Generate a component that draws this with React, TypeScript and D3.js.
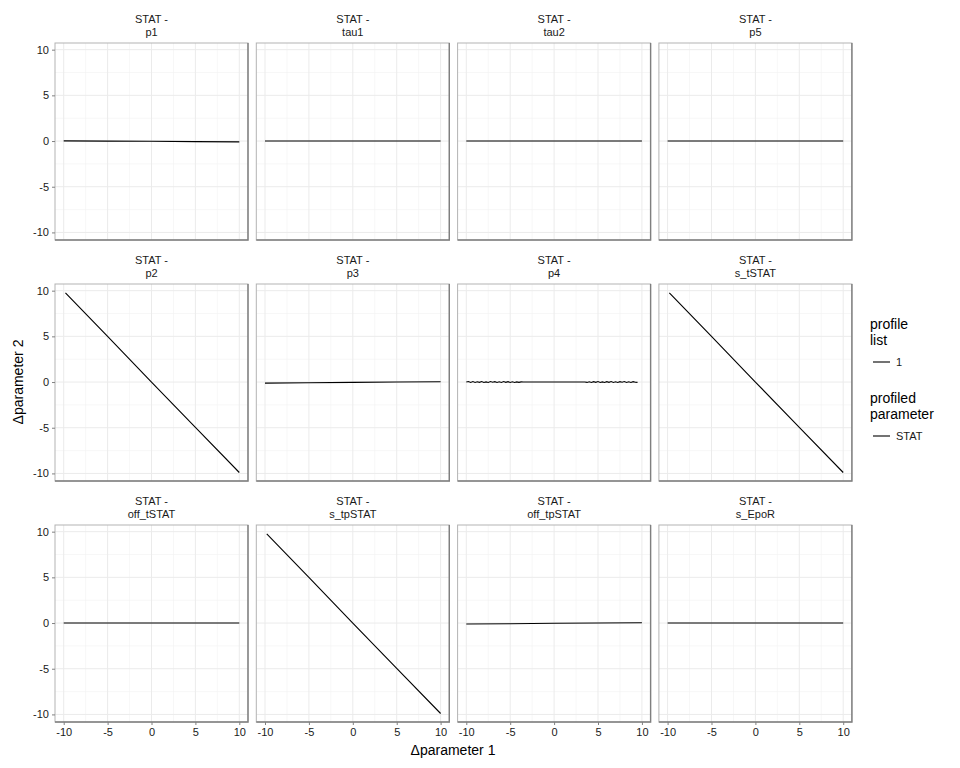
import React, { useEffect, useRef } from 'react';
import * as d3 from 'd3';

// facet names (row-major, 4 columns)
const panelNames = [
  'p1', 'tau1', 'tau2', 'p5',
  'p2', 'p3', 'p4', 's_tSTAT',
  'off_tSTAT', 's_tpSTAT', 'off_tpSTAT', 's_EpoR'
];

// x / y values per facet
const flatX = [-10, -5, 0, 5, 10];
const diagX = [-9.8, -5, 0, 5, 10];

const yP1 = [0.02, -0.01, -0.03, -0.06, -0.09];
const yTau1 = [0, 0, 0, 0, 0];
const yTau2 = [0, 0, 0, 0, 0];
const yP5 = [0, 0, 0, 0, 0];
const yP2 = [9.75, 5.0, 0.0, -4.95, -9.9];
const yP3 = [-0.12, -0.08, -0.04, 0.0, 0.03];
const ySt = [9.75, 5.0, 0.0, -4.95, -9.9];
const yOffT = [0, 0, 0, 0, 0];
const ySTp = [9.75, 5.0, 0.0, -4.95, -9.9];
const yOffTp = [-0.1, -0.07, -0.03, 0.0, 0.03];
const yEpoR = [0, 0, 0, 0, 0];

// p4 is wiggly near both ends
const p4X = [
  -10, -9.75, -9.5, -9.25, -9, -8.75, -8.5, -8.25, -8, -7.75, -7.5, -7.25, -7, -6.75,
  -6.5, -6.25, -6, -5.75, -5.5, -5.25, -5, -4.75, -4.5, -4.25, -4, -3.75, -3.5,
  0,
  3.5, 3.75, 4, 4.25, 4.5, 4.75, 5, 5.25, 5.5, 5.75, 6, 6.25, 6.5, 6.75, 7, 7.25,
  7.5, 7.75, 8, 8.25, 8.5, 8.75, 9, 9.25, 9.5, 9.75, 10
];
const p4Y = [
  0.0, 0.06, -0.04, 0.05, -0.05, 0.03, -0.03, 0.06, -0.05, 0.02, -0.04, 0.05, -0.02, 0.04,
  -0.05, 0.03, -0.04, 0.05, -0.03, 0.04, -0.05, 0.03, -0.04, 0.02, -0.03, 0.02, 0.0,
  0.0,
  0.0, -0.04, 0.03, -0.05, 0.04, -0.03, 0.05, -0.04, 0.02, -0.05, 0.04, -0.03, 0.05, -0.04,
  0.03, -0.05, 0.04, -0.02, 0.05, -0.04, 0.03, -0.05, 0.04, -0.03, -0.04
];

const seriesX = [flatX, flatX, flatX, flatX, diagX, flatX, p4X, diagX, flatX, diagX, flatX, flatX];
const seriesY = [yP1, yTau1, yTau2, yP5, yP2, yP3, p4Y, ySt, yOffT, ySTp, yOffTp, yEpoR];

const tickValues = [-10, -5, 0, 5, 10];
const minorValues = [-7.5, -2.5, 2.5, 7.5];

const legendGroups = [
  { title: ['profile', 'list'], label: '1' },
  { title: ['profiled', 'parameter'], label: 'STAT' }
];

const FONT = '"Liberation Sans", Arial, Helvetica, sans-serif';

export default function App() {
  const ref = useRef<SVGSVGElement>(null);

  useEffect(() => {
    const W = 960, H = 768;
    const left = 55, top = 43;
    const pw = 193, ph = 197;
    const gapX = 8.3, gapY = 44;

    const svg = d3.select(ref.current);
    svg.selectAll('*').remove();
    svg.attr('width', W).attr('height', H).style('font-family', FONT);
    svg.append('rect').attr('width', W).attr('height', H).attr('fill', 'white');

    const x = d3.scaleLinear().domain([-10.99, 10.99]).range([0, pw]);
    const y = d3.scaleLinear().domain([-10.83, 10.73]).range([ph, 0]);

    const line = d3.line<[number, number]>()
      .x(d => x(d[0]))
      .y(d => y(d[1]));

    const fmt = (d: d3.NumberValue) => String(d);

    panelNames.forEach((name, i) => {
      const col = i % 4, row = Math.floor(i / 4);
      const px = left + col * (pw + gapX);
      const py = top + row * (ph + gapY);
      const g = svg.append('g').attr('transform', `translate(${px},${py})`);

      // strip text
      g.append('text').attr('x', pw / 2).attr('y', -20).attr('text-anchor', 'middle')
        .attr('font-size', 11).attr('fill', '#1a1a1a').text('STAT -');
      g.append('text').attr('x', pw / 2).attr('y', -7).attr('text-anchor', 'middle')
        .attr('font-size', 11).attr('fill', '#1a1a1a').text(name);

      // grid
      const grid = g.append('g');
      minorValues.forEach(v => {
        grid.append('line').attr('x1', x(v)).attr('x2', x(v)).attr('y1', 0).attr('y2', ph)
          .attr('stroke', '#f2f2f2').attr('stroke-width', 0.6);
        grid.append('line').attr('y1', y(v)).attr('y2', y(v)).attr('x1', 0).attr('x2', pw)
          .attr('stroke', '#f2f2f2').attr('stroke-width', 0.6);
      });
      tickValues.forEach(v => {
        grid.append('line').attr('x1', x(v)).attr('x2', x(v)).attr('y1', 0).attr('y2', ph)
          .attr('stroke', '#ebebeb').attr('stroke-width', 1);
        grid.append('line').attr('y1', y(v)).attr('y2', y(v)).attr('x1', 0).attr('x2', pw)
          .attr('stroke', '#ebebeb').attr('stroke-width', 1);
      });

      // data line
      const pts = seriesX[i].map((xv, k) => [xv, seriesY[i][k]] as [number, number]);
      g.append('path').attr('d', line(pts)).attr('fill', 'none')
        .attr('stroke', 'black').attr('stroke-width', 1.1);

      // panel border
      g.append('rect').attr('x', 0).attr('y', 0).attr('width', pw).attr('height', ph)
        .attr('fill', 'none').attr('stroke', '#b3b3b3').attr('stroke-width', 1);
      g.append('path').attr('d', `M${pw},0V${ph}H0`).attr('fill', 'none')
        .attr('stroke', '#7f7f7f').attr('stroke-width', 1.4);

      // y axis on first column
      if (col === 0) {
        const ay = g.append('g')
          .call(d3.axisLeft(y).tickValues(tickValues).tickSize(3).tickPadding(3).tickFormat(fmt));
        ay.select('.domain').remove();
        ay.selectAll('.tick line').attr('stroke', '#808080');
        ay.selectAll('.tick text').attr('font-size', 11).attr('fill', '#1a1a1a').attr('font-family', FONT);
      }
      // x axis on last row
      if (row === 2) {
        const ax = g.append('g').attr('transform', `translate(0,${ph})`)
          .call(d3.axisBottom(x).tickValues(tickValues).tickSize(3).tickPadding(3).tickFormat(fmt));
        ax.select('.domain').remove();
        ax.selectAll('.tick line').attr('stroke', '#808080');
        ax.selectAll('.tick text').attr('font-size', 11).attr('fill', '#1a1a1a').attr('font-family', FONT);
      }
    });

    // axis titles
    svg.append('text').attr('x', 453).attr('y', 755).attr('text-anchor', 'middle')
      .attr('font-size', 14).attr('fill', 'black').text('\u0394parameter 1');
    svg.append('text').attr('transform', 'translate(23,382) rotate(-90)').attr('text-anchor', 'middle')
      .attr('font-size', 14).attr('fill', 'black').text('\u0394parameter 2');

    // legend
    const lg = svg.append('g').attr('transform', 'translate(870,0)');
    legendGroups.forEach((grp, i) => {
      const gy = 329 + i * 74;
      grp.title.forEach((t, k) => {
        lg.append('text').attr('x', 0).attr('y', gy + k * 16).attr('font-size', 14)
          .attr('fill', 'black').text(t);
      });
      const ky = gy + 33;
      lg.append('line').attr('x1', 3).attr('x2', 20).attr('y1', ky).attr('y2', ky)
        .attr('stroke', 'black').attr('stroke-width', 1.1);
      lg.append('text').attr('x', 26).attr('y', ky + 4).attr('font-size', 11)
        .attr('fill', '#1a1a1a').text(grp.label);
    });
  }, []);

  return <svg ref={ref} style={{ position: 'absolute', left: 0, top: 0 }} />;
}
